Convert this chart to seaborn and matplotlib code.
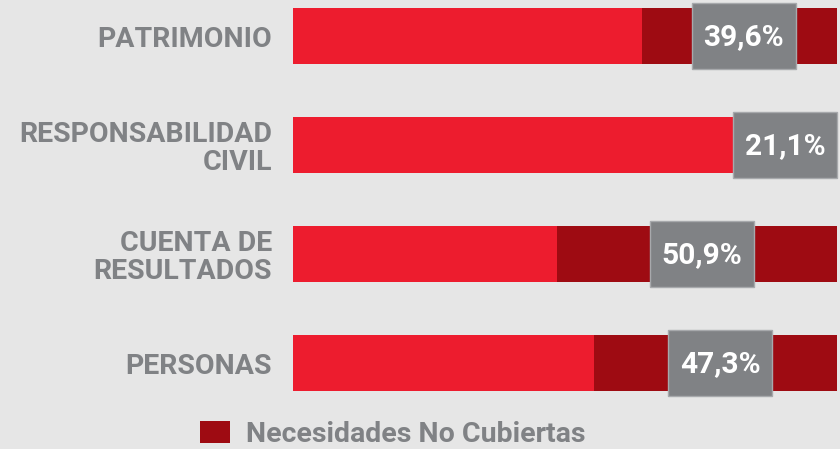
import matplotlib
matplotlib.use("Agg")
import matplotlib.pyplot as plt
from matplotlib.patches import Rectangle, Patch
import seaborn as sns
import pandas as pd

# ---- data ----
categorias = ["PATRIMONIO", "RESPONSABILIDAD\nCIVIL", "CUENTA DE\nRESULTADOS", "PERSONAS"]
cubiertas = [64.1, 81.0, 48.6, 55.4]          # bright segment
no_cubiertas_pct = [39.6, 21.1, 50.9, 47.3]   # values printed in the grey boxes
total = [100, 100, 100, 100]
leyenda = "Necesidades No Cubiertas"

# ---- style ----
BG = "#e6e6e6"
RED = "#ed1c2e"
DARK = "#9e0b12"
BOX = "#808285"
GREY_TXT = "#808285"
FONT = ["Roboto", "DejaVu Sans"]

plt.rcParams["font.family"] = FONT

W, H = 840, 449
fig = plt.figure(figsize=(W / 100, H / 100), dpi=100, facecolor=BG)

# axes placement in pixels (from top)
x0, x1 = 293, 837
pitch = 109
yc0 = 36
ytop = yc0 - pitch / 2
ybot = yc0 + 3 * pitch + pitch / 2
ax = fig.add_axes([x0 / W, (H - ybot) / H, (x1 - x0) / W, (ybot - ytop) / H])
ax.set_facecolor(BG)

df = pd.DataFrame({"cat": categorias, "total": total, "cub": cubiertas})

sns.barplot(data=df, x="total", y="cat", orient="h", color=DARK, saturation=1,
            width=0.52, ax=ax, linewidth=0)
sns.barplot(data=df, x="cub", y="cat", orient="h", color=RED, saturation=1,
            width=0.52, ax=ax, linewidth=0)

ax.set_xlim(0, 100)
ax.set_ylim(3.5, -0.5)
ax.set_xlabel("")
ax.set_ylabel("")
ax.set_xticks([])
for s in ax.spines.values():
    s.set_visible(False)
ax.tick_params(axis="y", length=0, pad=15)
for lab in ax.get_yticklabels():
    lab.set_fontsize(20.5)
    lab.set_fontweight("bold")
    lab.set_color(GREY_TXT)
    lab.set_linespacing(1.05)

# grey value boxes
box_w = 104 / (x1 - x0) * 100
box_h = 66 / pitch
for i, (c, p) in enumerate(zip(cubiertas, no_cubiertas_pct)):
    cx = (c + 100) / 2 + 0.8
    cx = min(cx, 100 - box_w / 2)
    ax.add_patch(Rectangle((cx - box_w / 2, i - box_h / 2), box_w, box_h,
                           facecolor=BOX, edgecolor="#a7a9ac", linewidth=1,
                           zorder=5, clip_on=False))
    ax.text(cx, i + 0.01, f"{p:.1f}%".replace(".", ","), ha="center", va="center",
            color="white", fontsize=21.5, fontweight="bold", zorder=6)

# legend
handle = Patch(facecolor=DARK, edgecolor="none")
leg = fig.legend([handle], [leyenda], loc="lower left",
                 bbox_to_anchor=(200 / W, 1 / H), frameon=False,
                 borderpad=0, borderaxespad=0, handlelength=1.05,
                 handleheight=0.8, handletextpad=0.55,
                 prop={"family": FONT, "weight": "bold", "size": 20.5})
for t in leg.get_texts():
    t.set_color(GREY_TXT)

fig.savefig("out.png", dpi=100, facecolor=BG)
